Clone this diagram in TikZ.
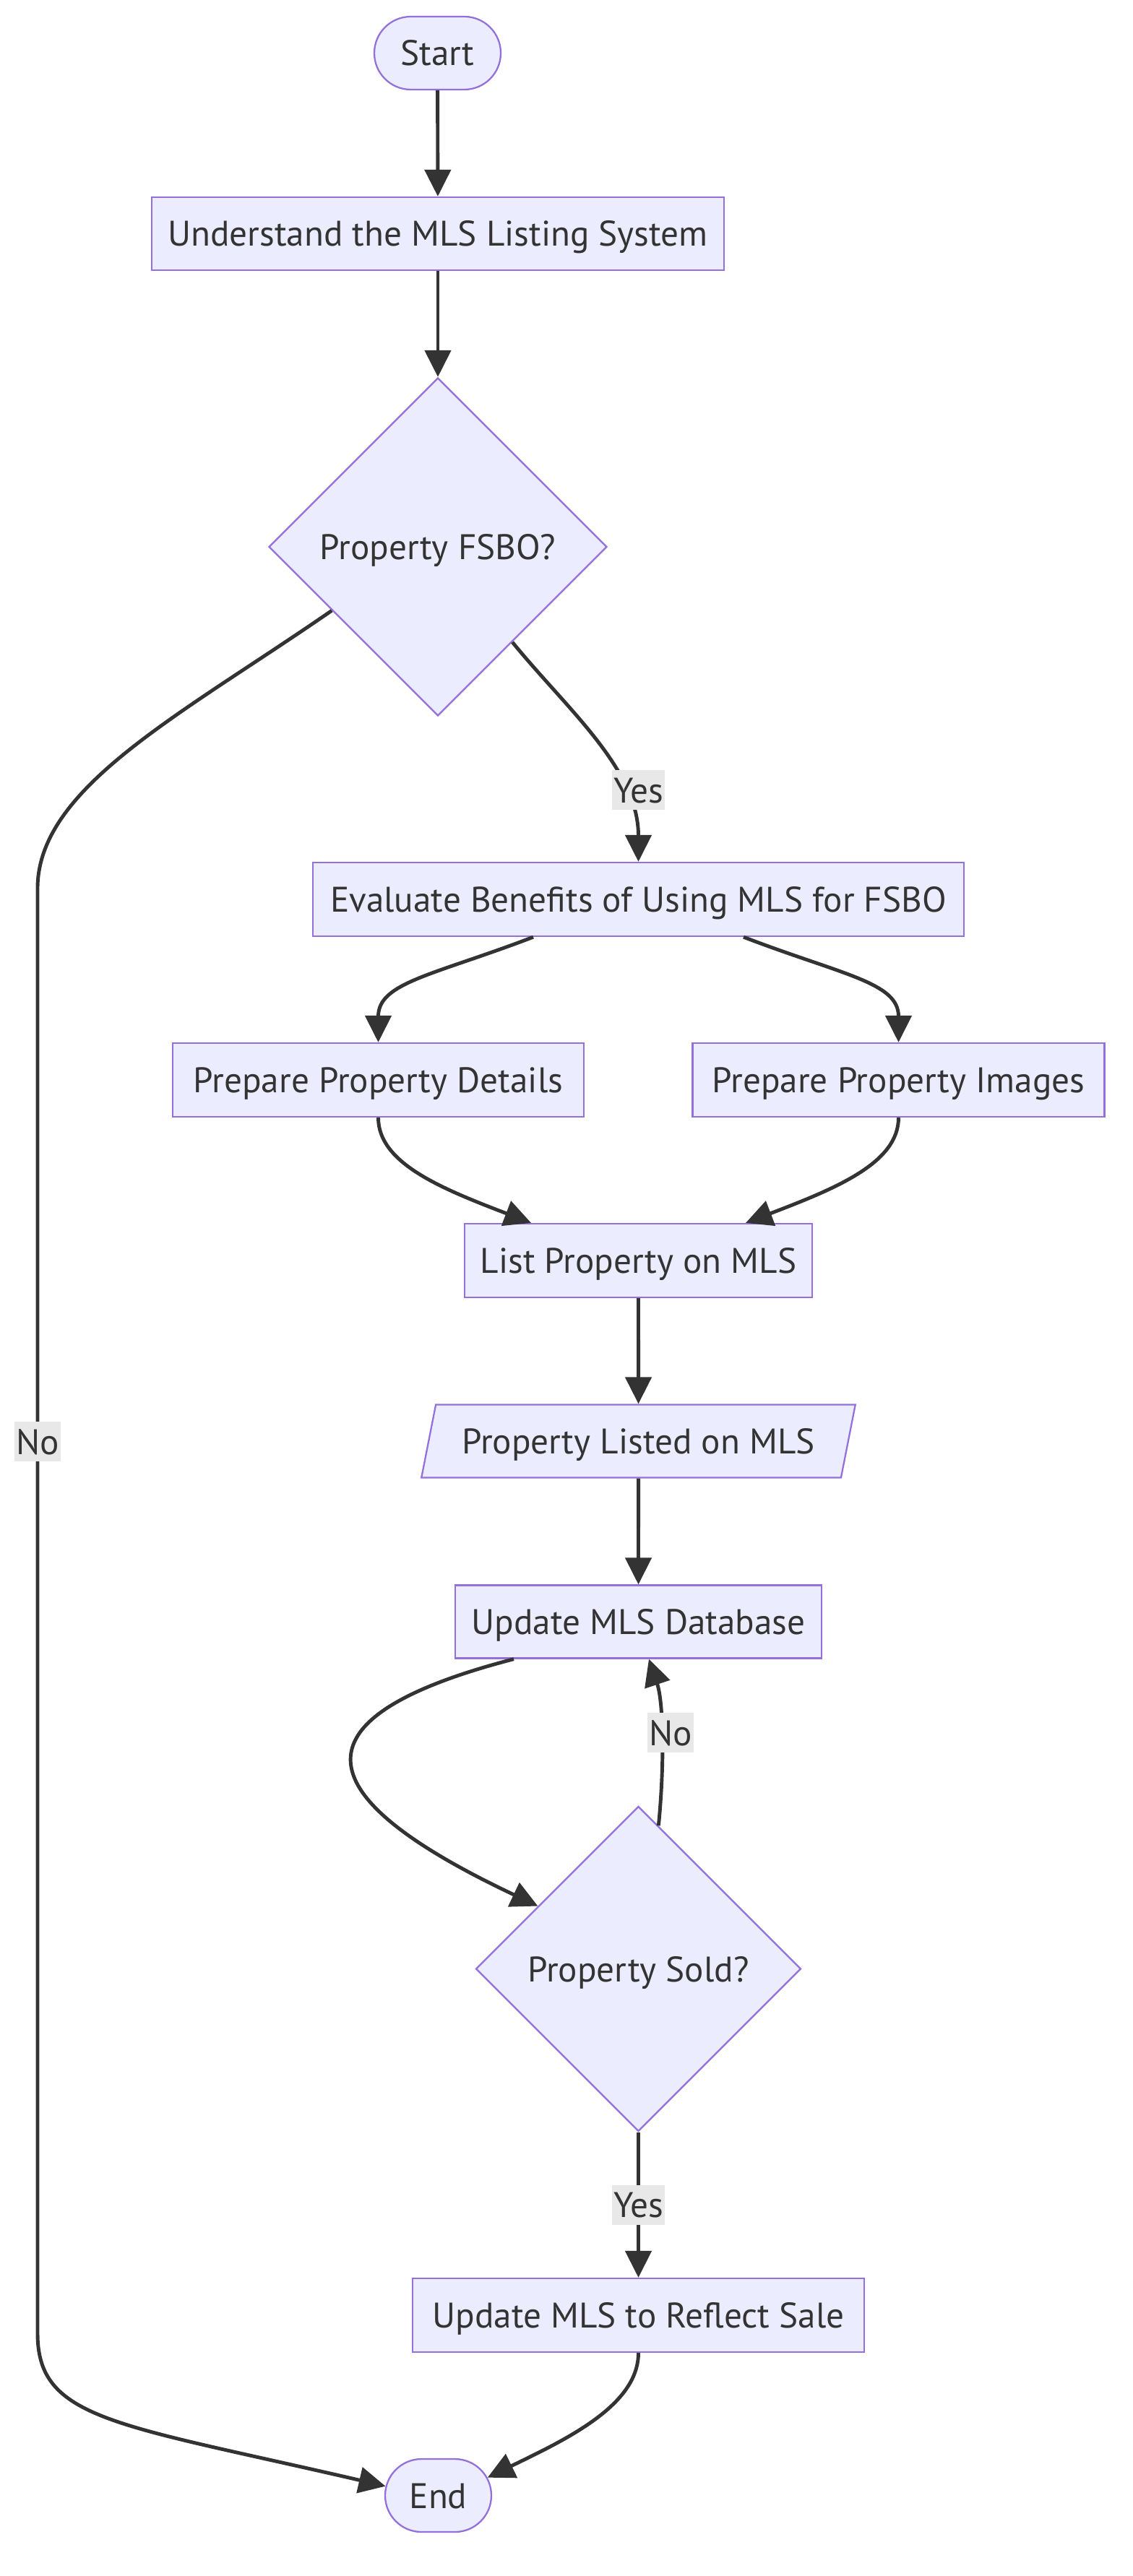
\documentclass[tikz,border=0pt]{standalone}
\usepackage{fontspec}
\setmainfont{PT Sans}
\usetikzlibrary{arrows.meta, shapes.geometric, shapes.misc, calc}
\definecolor{nodefill}{HTML}{ECECFF}
\definecolor{nodeline}{HTML}{9370DB}
\definecolor{edgecol}{HTML}{333333}
\definecolor{textcol}{HTML}{333333}
\definecolor{lblfill}{HTML}{E8E8E8}
\tikzset{>={Triangle[length=3.7mm,width=3.6mm]}}
\tikzset{
  box/.style={draw=nodeline, fill=nodefill, line width=0.65pt, text=textcol,
    minimum height=1.01cm, inner sep=0pt, text height=0.35cm, text depth=0pt,
    font=\fontsize{14}{17}\selectfont},
  term/.style={box, rounded rectangle},
  decision/.style={box, diamond, minimum width=4.68cm, minimum height=4.68cm},
  iobox/.style={box, trapezium, trapezium left angle=63.7, trapezium right angle=116.3,
    trapezium stretches=true},
  flow/.style={->, draw=edgecol, line width=1.4pt},
  lbl/.style={fill=lblfill, text=textcol, inner xsep=0.02cm, inner ysep=0pt,
    minimum height=0.55cm, text height=0.35cm, text depth=0pt,
    font=\fontsize{14}{17}\selectfont}
}

\begin{document}
\begin{tikzpicture}
\useasboundingbox (0,0) rectangle (15.68,-35.66);

\node[term, minimum width=1.75cm] (start) at (6.055,-0.735) {Start};
\node[box, minimum width=7.92cm] (understand) at (6.06,-3.235) {Understand the MLS Listing System};
\node[decision] (fsbo) at (6.06,-7.57) {Property FSBO?};
\node[box, minimum width=9.01cm, minimum height=1.02cm] (evaluate) at (8.835,-12.45) {Evaluate Benefits of Using MLS for FSBO};
\node[box, minimum width=5.69cm, minimum height=1.02cm] (details) at (5.235,-14.95) {Prepare Property Details};
\node[box, minimum width=5.70cm, minimum height=1.02cm] (images) at (12.435,-14.95) {Prepare Property Images};
\node[box, minimum width=4.81cm, minimum height=1.02cm] (list) at (8.835,-17.45) {List Property on MLS};
\node[iobox, minimum width=6.01cm] (listed) at (8.835,-19.95) {Property Listed on MLS};
\node[box, minimum width=5.07cm] (database) at (8.835,-22.45) {Update MLS Database};
\node[decision, minimum width=4.5cm, minimum height=4.5cm] (sold) at (8.835,-27.255) {Property Sold?};
\node[box, minimum width=6.25cm, minimum height=1.02cm] (sale) at (8.835,-32.05) {Update MLS to Reflect Sale};
\node[term, minimum width=1.47cm] (end) at (6.065,-34.545) {End};

\draw[flow] (start) -- (understand);
\draw[flow] (understand) -- (fsbo);
\draw[flow] (fsbo.-52) .. controls (7.85,-9.82) and (8.835,-10.64) .. (evaluate.north);
\draw[flow] (fsbo.211) .. controls (2.5,-9.9) and (0.52,-10.9) .. (0.52,-12.3)
  -- (0.52,-32.3) .. controls (0.52,-33.5) and (1.6,-33.55) .. (end.170);
\draw[flow] ($(evaluate.south)+(-1.455,0)$) .. controls (6.0,-13.5) and (5.235,-13.6) .. (details.north);
\draw[flow] ($(evaluate.south)+(1.455,0)$) .. controls (11.67,-13.5) and (12.435,-13.6) .. (images.north);
\draw[flow] (details.south) .. controls (5.235,-16.1) and (6.1,-16.45) .. ($(list.north)+(-1.485,0)$);
\draw[flow] (images.south) .. controls (12.435,-16.1) and (11.57,-16.45) .. ($(list.north)+(1.485,0)$);
\draw[flow] (list) -- (listed);
\draw[flow] (listed) -- (database);
\draw[flow] ($(database.south)+(-1.725,0)$) .. controls (3.9,-23.8) and (4.3,-24.9) .. (sold.148);
\draw[flow] (sold.82) .. controls (9.2,-24.39) and (9.18,-23.56) .. ($(database.south)+(0.145,0)$);
\draw[flow] (sold) -- (sale);
\draw[flow] (sale.south) .. controls (8.835,-33.3) and (7.83,-33.77) .. (end.20);

\node[lbl] (yesfsbo) at (8.835,-10.935) {Yes};
\node[lbl] (nofsbo) at (0.52,-19.955) {No};
\node[lbl] (nosold) at (9.28,-23.985) {No};
\node[lbl] (yessold) at (8.835,-30.52) {Yes};
\end{tikzpicture}
\end{document}
